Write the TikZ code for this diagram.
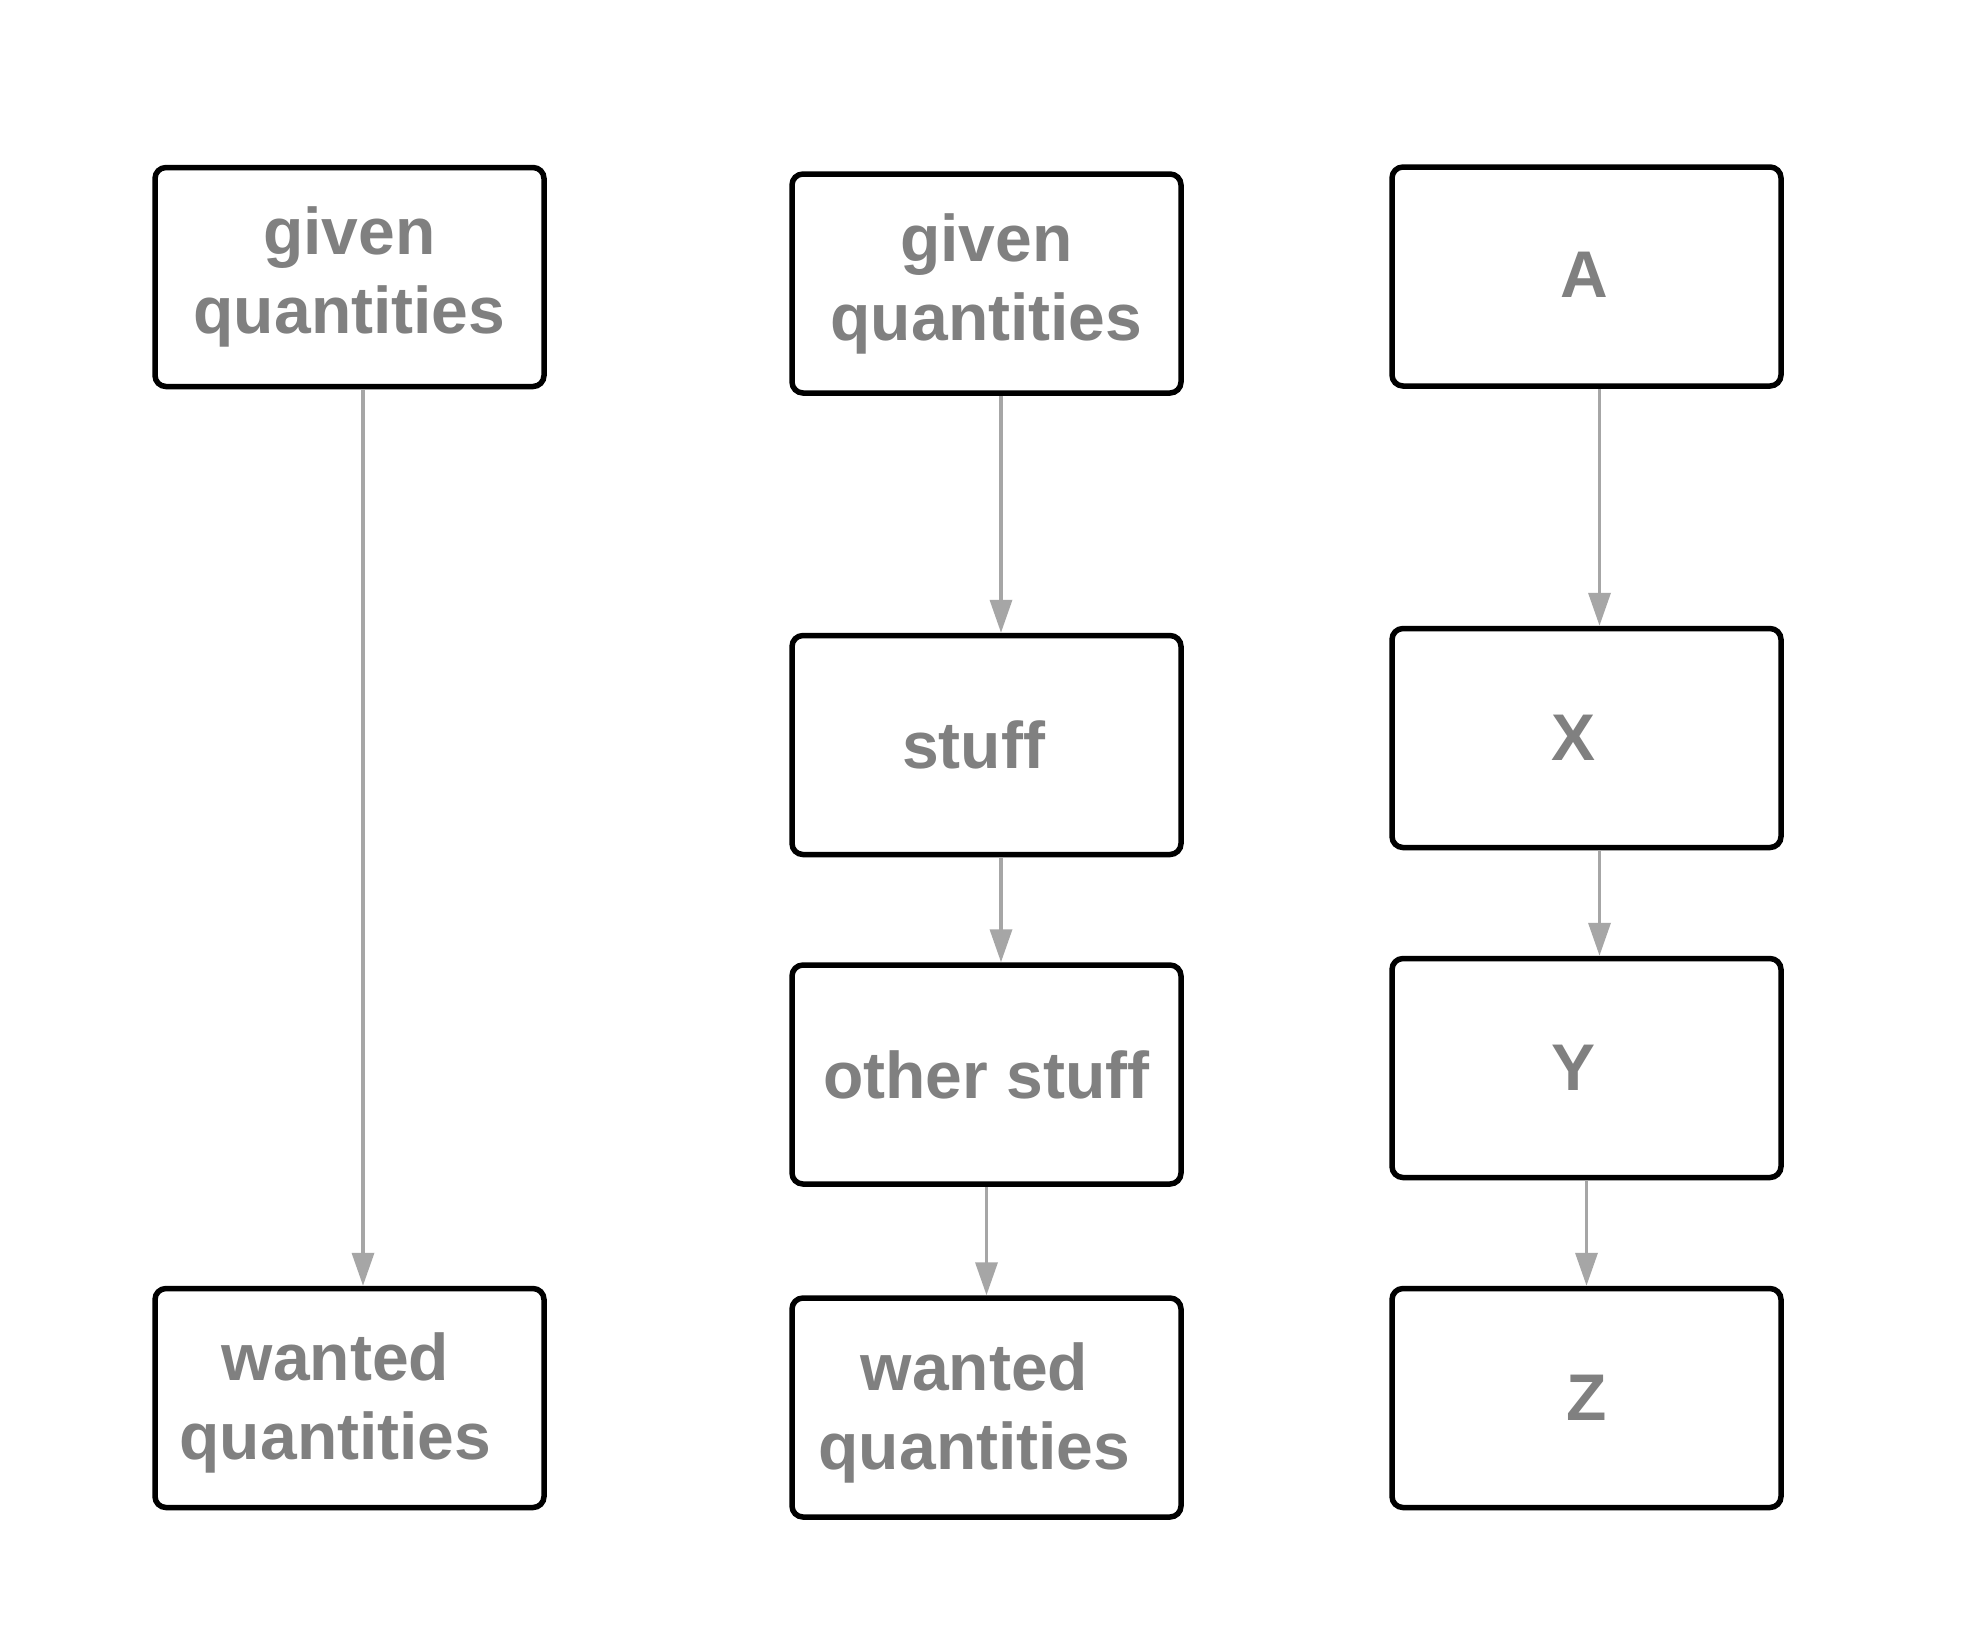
\documentclass[tikz,border=0pt]{standalone}
\usepackage{fontspec}
\setmainfont{Liberation Sans}
\usetikzlibrary{arrows.meta}
\definecolor{txtgray}{HTML}{808080}
\definecolor{arrgray}{HTML}{A6A6A6}
\tikzset{
  box/.style={draw=black, line width=5.5pt, rounded corners=11pt, fill=white,
    minimum width=389pt, minimum height=219pt, inner sep=0pt, align=center,
    text=txtgray, font=\fontsize{66}{79}\selectfont\bfseries},
  arr/.style={draw=arrgray, line width=3.5pt, -{Triangle[length=33pt,width=22pt]}}
}
\begin{document}
\begin{tikzpicture}[x=1pt,y=-1pt]
\useasboundingbox[fill=white] (0,0) rectangle (1974,1652);
% column 1
\node[box] (g1) at (349.5,277) {given\\quantities};
\node[box] (w1) at (349.5,1398) {\rule{0pt}{57pt}\hspace*{-28pt}wanted\\\hspace*{-28pt}quantities};
% column 2
\node[box] (g2) at (986.5,283.5) {given\\quantities};
\node[box] (s2) at (986.5,745) {\hspace*{-26pt}stuff};
\node[box] (o2) at (986.5,1074.5) {other stuff};
\node[box] (w2) at (986.5,1407.5) {\rule{0pt}{59pt}\hspace*{-24pt}wanted\\\hspace*{-24pt}quantities};
% column 3
\node[box] (a3) at (1586.5,276.5) {\raisebox{4pt}{\hspace*{-5pt}A}};
\node[box] (x3) at (1586.5,738) {\hspace*{-27pt}X};
\node[box] (y3) at (1586.5,1068) {\hspace*{-27pt}Y};
\node[box] (z3) at (1586.5,1398) {Z};
% arrows
\draw[arr] ([xshift=13.5pt]g1.south) -- ([xshift=13.5pt]w1.north);
\draw[arr] ([xshift=14.5pt]g2.south) -- ([xshift=14.5pt]s2.north);
\draw[arr] ([xshift=14.5pt]s2.south) -- ([xshift=14.5pt]o2.north);
\draw[arr] (o2.south) -- (w2.north);
\draw[arr] ([xshift=13pt]a3.south) -- ([xshift=13pt]x3.north);
\draw[arr] ([xshift=13pt]x3.south) -- ([xshift=13pt]y3.north);
\draw[arr] (y3.south) -- (z3.north);
\end{tikzpicture}
\end{document}
